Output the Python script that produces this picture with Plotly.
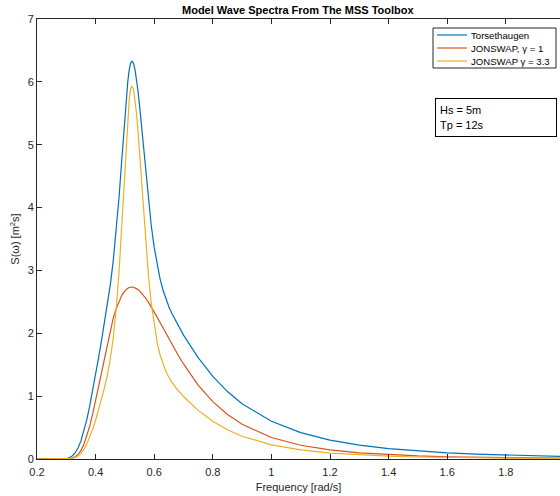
import plotly.graph_objects as go

# Frequency grid [rad/s]
freq = [0.20, 0.25, 0.30, 0.31, 0.32, 0.33, 0.34, 0.35, 0.36, 0.37, 0.38, 0.39,
        0.40, 0.41, 0.42, 0.43, 0.44, 0.45, 0.46, 0.47, 0.48, 0.49, 0.50,
        0.505, 0.51, 0.515, 0.52, 0.525, 0.53, 0.535, 0.54, 0.545, 0.55,
        0.56, 0.57, 0.58, 0.59, 0.60, 0.61, 0.62, 0.63, 0.64, 0.65, 0.66,
        0.68, 0.70, 0.75, 0.80, 0.85, 0.90, 1.0, 1.1, 1.2, 1.3, 1.4, 1.5,
        1.6, 1.7, 1.8, 1.9, 2.0]

torsethaugen = [0.0, 0.0, 0.0075, 0.0205, 0.0476, 0.0964, 0.1745, 0.2877, 0.4387, 0.6255, 0.8435, 1.0861,
                1.3433, 1.6096, 1.8796, 2.1558, 2.4446, 2.7657, 3.1431, 3.6027, 4.1601, 4.8017, 5.4603,
                5.7580, 6.0110, 6.1983, 6.3064, 6.3280, 6.2829, 6.1824, 6.0335, 5.8432, 5.6211,
                5.1216, 4.6061, 4.1265, 3.7103, 3.3656, 3.0880, 2.8663, 2.6892, 2.5446, 2.4224, 2.3175,
                2.1341, 1.9704, 1.6116, 1.3141, 1.0727, 0.8789, 0.5998, 0.4196, 0.3008, 0.2205, 0.1651, 0.1258,
                0.0975, 0.0767, 0.0612, 0.0493, 0.0402]

jonswap_g1 = [0.0, 0.0, 0.0014, 0.0050, 0.0144, 0.0349, 0.0732, 0.1367, 0.2310, 0.3603, 0.5240, 0.7178,
              0.9350, 1.1673, 1.4040, 1.6371, 1.8580, 2.0604, 2.2380, 2.3884, 2.5120, 2.6070, 2.6740,
              2.6985, 2.7160, 2.7285, 2.7350, 2.7360, 2.7320, 2.7236, 2.7110, 2.6947, 2.6747,
              2.6250, 2.5648, 2.4960, 2.4208, 2.3410, 2.2575, 2.1720, 2.0856, 1.9992, 1.9140, 1.8290,
              1.6657, 1.5120, 1.1767, 0.9118, 0.7075, 0.5515, 0.3421, 0.2188, 0.1443, 0.0979, 0.0682, 0.0486,
              0.0353, 0.0262, 0.0197, 0.0151, 0.0117]

jonswap_g33 = [0.0, 0.0, 0.0009, 0.0033, 0.0095, 0.0229, 0.0481, 0.0899, 0.1520, 0.2369, 0.3445, 0.4726,
               0.6170, 0.7749, 0.9435, 1.1267, 1.3346, 1.5880, 1.9175, 2.3654, 2.9746, 3.7549, 4.6390,
               5.0678, 5.4420, 5.7310, 5.8990, 5.9330, 5.8620, 5.7080, 5.4830, 5.2006, 4.8790,
               4.1850, 3.5173, 2.9406, 2.4773, 2.1211, 1.8536, 1.6545, 1.5052, 1.3906, 1.3001, 1.2244,
               1.1003, 0.9950, 0.7736, 0.5994, 0.4651, 0.3626, 0.2249, 0.1438, 0.0949, 0.0644, 0.0448, 0.0319,
               0.0232, 0.0172, 0.0130, 0.0099, 0.0077]

series_names = ["Torsethaugen", "JONSWAP, \u03b3 = 1", "JONSWAP \u03b3 = 3.3"]
series_colors = ["#0072BD", "#D95319", "#EDB120"]

x_ticks = [0.2, 0.4, 0.6, 0.8, 1.0, 1.2, 1.4, 1.6, 1.8]
x_ticklabels = ["0.2", "0.4", "0.6", "0.8", "1", "1.2", "1.4", "1.6", "1.8"]
y_ticks = [0, 1, 2, 3, 4, 5, 6, 7]

FONT = "Liberation Sans, Arial, Helvetica, sans-serif"
AX = "#262626"

# plot-area geometry (pixels) used to place the legend / text boxes in paper coords
W, H = 560, 496
ML, MR, MT, MB = 37, 0, 19, 37
PW, PH = W - ML - MR, H - MT - MB


def px(xp):
    return (xp - ML) / PW


def py(yp):
    return (H - MB - yp) / PH


fig = go.Figure()
for name, ys, col in zip(series_names, [torsethaugen, jonswap_g1, jonswap_g33], series_colors):
    fig.add_trace(go.Scatter(x=freq, y=ys, mode="lines", name=name,
                             line=dict(color=col, width=1.2), showlegend=False))

fig.update_layout(
    width=W, height=H,
    margin=dict(l=ML, r=MR, t=MT, b=MB, autoexpand=False),
    paper_bgcolor="white", plot_bgcolor="white",
    font=dict(family=FONT, size=11, color=AX),
    showlegend=False,
)
fig.update_xaxes(range=[0.2, 1.985], tickvals=x_ticks, ticktext=x_ticklabels,
                 ticks="inside", ticklen=5, tickcolor=AX, showgrid=False, zeroline=False,
                 showline=True, linecolor=AX, linewidth=1, mirror="ticks",
                 ticklabelstandoff=3, automargin=False,
                 title=dict(text="Frequency [rad/s]", standoff=6, font=dict(size=11, color=AX)))
fig.update_yaxes(range=[0, 7], tickvals=y_ticks, ticks="inside", ticklen=5, tickcolor=AX,
                 showgrid=False, zeroline=False, showline=True, linecolor=AX, linewidth=1,
                 automargin=False,
                 title=dict(text="S(\u03c9) [m<sup>2</sup>s]", standoff=5, font=dict(size=11, color=AX)))

fig.add_annotation(xref="paper", yref="paper", x=0.5, y=1, yanchor="bottom", yshift=1,
                   text="<b>Model Wave Spectra From The MSS Toolbox</b>", showarrow=False,
                   font=dict(size=11, color="black"))

# legend box (drawn as shapes + text so that its rows are as compact as the reference)
leg_x0, leg_x1, leg_y0, leg_y1 = 433, 556, 28, 68
fig.add_shape(type="rect", xref="paper", yref="paper",
              x0=px(leg_x0), x1=px(leg_x1), y0=py(leg_y1), y1=py(leg_y0),
              line=dict(color=AX, width=1), fillcolor="white", layer="above")
row_y = [35, 48, 61]
for name, col, ry in zip(series_names, series_colors, row_y):
    fig.add_shape(type="line", xref="paper", yref="paper",
                  x0=px(437), x1=px(467), y0=py(ry), y1=py(ry),
                  line=dict(color=col, width=1.2), layer="above")
    fig.add_annotation(xref="paper", yref="paper", x=px(469), y=py(ry),
                       xanchor="left", yanchor="middle", text=name, showarrow=False,
                       font=dict(size=9.6, color="black"))

fig.add_annotation(xref="paper", yref="paper", x=px(435), y=py(98), xanchor="left", yanchor="top",
                   text="Hs = 5m<br>Tp = 12s", showarrow=False, align="left",
                   width=112, height=29, borderpad=4, bordercolor="black", borderwidth=1,
                   bgcolor="white", font=dict(size=11, color="black"))

fig.write_html("out.html")
